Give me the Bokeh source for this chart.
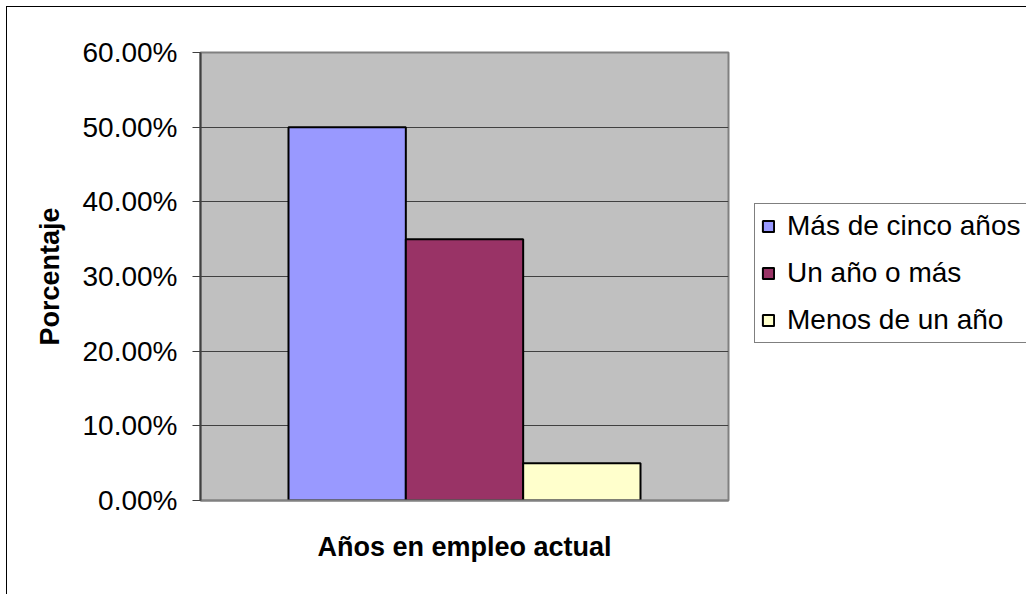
from bokeh.plotting import figure
from bokeh.models import Range1d, FixedTicker, NumeralTickFormatter, Legend, LegendItem
from bokeh.embed import file_html
from bokeh.resources import INLINE

# ---- data ----
categories = ["Más de cinco años", "Un año o más", "Menos de un año"]
values = [0.50, 0.35, 0.05]
colors = ["#9999FF", "#993366", "#FFFFCC"]
y_ticks = [0.0, 0.1, 0.2, 0.3, 0.4, 0.5, 0.6]
x_title = "Años en empleo actual"
y_title = "Porcentaje"

FONT = "Liberation Sans"
FS = "28px"
FS_TITLE = "27px"

p = figure(frame_width=528, frame_height=448, output_backend="svg", toolbar_location=None,
           x_range=Range1d(0, 4.5), y_range=Range1d(0, 0.6))
p.styles = {"border-left": "1px solid black", "border-top": "1px solid black",
            "margin-left": "6px", "margin-top": "6px"}

# frame placement
p.min_border_left = 193
p.min_border_top = 45
p.min_border_right = 298
p.min_border_bottom = 94

p.background_fill_color = "#C0C0C0"
p.border_fill_color = "white"
p.outline_line_color = "#808080"
p.outline_line_width = 2

items = []
gap = 0.75
for i, (cat, v, c) in enumerate(zip(categories, values, colors)):
    r = p.vbar(x=[gap + i + 0.5], top=[v], bottom=0, width=1.0,
               fill_color=c, line_color="black", line_width=2)
    items.append(LegendItem(label=cat, renderers=[r]))

# y axis
p.yaxis.ticker = FixedTicker(ticks=y_ticks)
p.yaxis.formatter = NumeralTickFormatter(format="0.00%")
p.yaxis.major_label_text_font = FONT
p.yaxis.major_label_text_font_size = FS
p.yaxis.major_label_text_color = "black"
p.yaxis.major_label_standoff = 15
p.yaxis.axis_line_color = "#404040"
p.yaxis.axis_line_width = 2
p.yaxis.major_tick_line_color = "#404040"
p.yaxis.major_tick_line_width = 1
p.yaxis.major_tick_out = 8
p.yaxis.major_tick_in = 0
p.yaxis.minor_tick_line_color = None
p.yaxis.axis_label = y_title
p.yaxis.axis_label_text_font = FONT
p.yaxis.axis_label_text_font_size = FS_TITLE
p.yaxis.axis_label_text_font_style = "bold"
p.yaxis.axis_label_text_color = "black"
p.yaxis.axis_label_standoff = 15

# x axis
p.xaxis.ticker = FixedTicker(ticks=[])
p.xaxis.major_tick_line_color = None
p.xaxis.minor_tick_line_color = None
p.xaxis.major_label_text_font_size = "0px"
p.xaxis.axis_line_color = "#808080"
p.xaxis.axis_line_width = 2
p.xaxis.axis_label = x_title
p.xaxis.axis_label_text_font = FONT
p.xaxis.axis_label_text_font_size = FS_TITLE
p.xaxis.axis_label_text_font_style = "bold"
p.xaxis.axis_label_text_color = "black"
p.xaxis.axis_label_standoff = 31

# grid
p.xgrid.grid_line_color = None
p.ygrid.ticker = FixedTicker(ticks=y_ticks)
p.ygrid.grid_line_color = "#404040"
p.ygrid.grid_line_width = 1

legend = Legend(items=items, location=(26, 157))
legend.label_text_font = FONT
legend.label_text_font_size = FS
legend.label_text_color = "black"
legend.glyph_width = 14
legend.glyph_height = 14
legend.label_standoff = 12
legend.padding = 6
legend.spacing = 15
legend.label_height = 23
legend.margin = 0
legend.border_line_color = "black"
legend.border_line_width = 1
legend.background_fill_color = "white"
legend.background_fill_alpha = 1
p.add_layout(legend, "right")

open("out.html", "w").write(file_html(p, INLINE))
